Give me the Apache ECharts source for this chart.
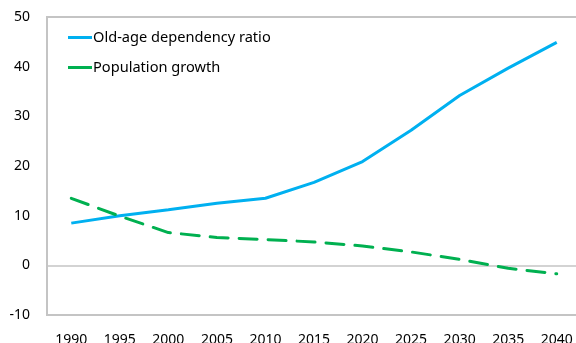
<!DOCTYPE html>
<html><head><meta charset="utf-8">
<script src="https://cdn.jsdelivr.net/npm/echarts@6/dist/echarts.min.js"></script>
<style>html,body{margin:0;padding:0;background:#fff}#c{width:576px;height:343px}</style>
</head><body><div id="c"></div>
<script>
const years = ['1990','1995','2000','2005','2010','2015','2020','2025','2030','2035','2040'];
const oldAgeRatio = [8.5, 10.0, 11.2, 12.5, 13.5, 16.7, 20.9, 27.2, 34.2, 39.7, 44.9];
const popGrowth = [13.5, 9.9, 6.6, 5.6, 5.2, 4.7, 3.9, 2.7, 1.2, -0.6, -1.7];
const yTicks = {min: -10, max: 50, interval: 10};

const chart = echarts.init(document.getElementById('c'));
const font = 'Noto Sans';
const gridCol = '#c4c4c4';
const clear = 'rgba(0,0,0,0)';
chart.setOption({
  animation: false,
  grid: {left: 47, top: 17, width: 534, bottom: 28, containLabel: false, outerBoundsMode: 'none',
         show: true, borderColor: gridCol, borderWidth: 2},
  legend: {
    orient: 'vertical', left: 63, top: 25, itemGap: 15, itemWidth: 24, itemHeight: 3, icon: 'rect',
    textStyle: {fontFamily: font, fontSize: 14.6, color: '#000', padding: [0,0,0,-4]},
    data: ['Old-age dependency ratio', 'Population growth']
  },
  xAxis: {
    type: 'category', data: years, boundaryGap: true,
    axisLine: {show: true, onZero: false, lineStyle: {color: gridCol, width: 2}}, axisTick: {show: false},
    axisLabel: {fontFamily: font, fontSize: 14, color: '#000', margin: 18, interval: 0}
  },
  yAxis: {
    type: 'value', min: yTicks.min, max: yTicks.max, interval: yTicks.interval,
    axisLine: {show: true, lineStyle: {color: gridCol, width: 2}}, axisTick: {show: false},
    axisLabel: {fontFamily: font, fontSize: 14, color: '#000', margin: 17},
    splitLine: {show: true, lineStyle: {width: 1.5, color: [clear, gridCol, clear, clear, clear, clear, gridCol]}}
  },
  series: [
    {name: 'Old-age dependency ratio', type: 'line', data: oldAgeRatio, showSymbol: false, symbol: 'none',
     lineStyle: {color: '#00b0f0', width: 3}, itemStyle: {color: '#00b0f0'}},
    {name: 'Population growth', type: 'line', data: popGrowth, showSymbol: false, symbol: 'none',
     lineStyle: {color: '#00b050', width: 3, type: [18, 11], cap: 'round'}, itemStyle: {color: '#00b050'}}
  ]
});
</script></body></html>
